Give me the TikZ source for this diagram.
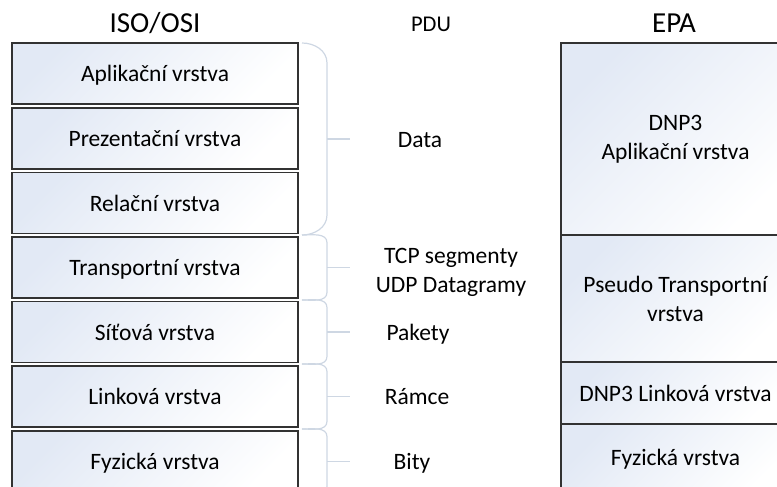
\documentclass[tikz,border=0pt]{standalone}
\usepackage{fontspec}
\setmainfont{Carlito}
\usetikzlibrary{shadows}
\definecolor{layerblue}{RGB}{226,233,245}
\definecolor{layerline}{RGB}{50,50,50}
\definecolor{braceblue}{RGB}{206,215,227}

\begin{document}
\begin{tikzpicture}[x=1pt, y=-1pt,
  layer/.style={draw=layerline, line width=1.4pt, top color=layerblue, bottom color=white,
    shading angle=45,
    drop shadow={opacity=0.2, shadow xshift=0.8pt, shadow yshift=-0.8pt},
    font=\fontsize{23.5pt}{29pt}\selectfont, align=center, inner sep=0pt},
  osi/.style={layer, minimum width=286pt, minimum height=61pt, text height=16pt, text depth=0pt},
  epa/.style={layer, minimum width=229pt},
  pdutext/.style={font=\fontsize{23.5pt}{29pt}\selectfont, align=center, inner sep=0pt},
  pdu/.style={pdutext, text height=16pt, text depth=0pt},
  title/.style={font=\fontsize{29pt}{34pt}\selectfont, anchor=base, inner sep=0pt},
  pdubrace/.style={draw=braceblue, line width=1.2pt}]
  \useasboundingbox (0,0) rectangle (777,487);
  \clip (0,0) rectangle (777,487);

  % nadpisy
  \node[title] (isoosi) at (155,33) {ISO/OSI};
  \node[title, font=\fontsize{22.5pt}{27pt}\selectfont] (pdutitle) at (431,32) {PDU};
  \node[title] (epatitle) at (674,33) {EPA};

  % vrstvy ISO/OSI
  \foreach \n/\y/\t in {app/73.5/Aplikační vrstva, pres/138.5/Prezentační vrstva,
      ses/203/Relační vrstva, trans/267.5/Transportní vrstva, net/332/Síťová vrstva,
      link/396.5/Linková vrstva, phys/461.5/Fyzická vrstva}
    \node[osi] (\n) at (155,\y) {\t};

  % vrstvy EPA
  \node[epa, minimum height=192pt] (epaapp) at (675.5,139) {DNP3\\Aplikační vrstva};
  \node[epa, minimum height=127pt] (epatrans) at (675.5,298.5) {Pseudo Transportní\\vrstva};
  \node[epa, minimum height=62pt] (epalink) at (675.5,393) {DNP3 Linková vrstva};
  \node[epa, minimum height=71pt] (epaphys) at (675.5,459.5) {Fyzická vrstva};

  % slozene zavorky
  \foreach \a/\b in {43/235, 235/300, 300/364, 364/429, 429/494} {
    \pgfmathsetmacro{\m}{(\a+\b)/2}
    \pgfmathsetmacro{\r}{min(20,0.12*(\b-\a))}
    \draw[pdubrace] (302,\a) to[out=0,in=90] (327,{\a+\r}) -- (327,{\b-\r})
      to[out=-90,in=0] (302,\b);
    \draw[pdubrace] (327,\m) -- (350,\m);
  }

  % PDU
  \node[pdu] (data) at (420,139) {Data};
  \node[pdutext] (segment) at (451,272) {TCP segmenty\\UDP Datagramy};
  \node[pdu] (packet) at (418,332) {Pakety};
  \node[pdu] (frame) at (417,396.5) {Rámce};
  \node[pdu] (bit) at (412,461.5) {Bity};
\end{tikzpicture}
\end{document}
